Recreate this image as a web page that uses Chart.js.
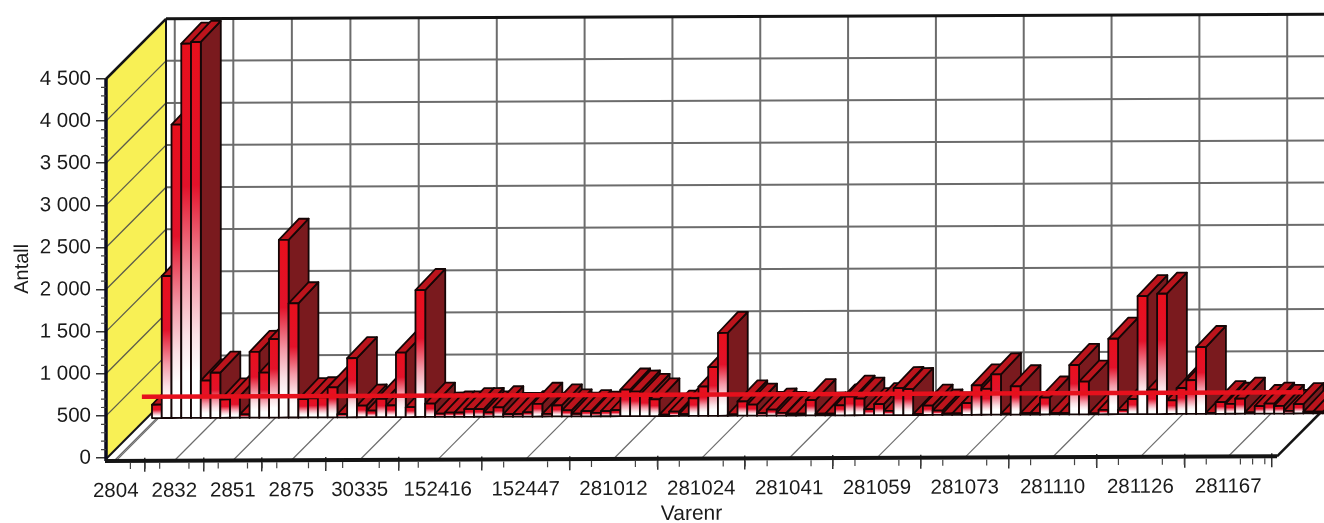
<!DOCTYPE html>
<html>
<head>
<meta charset="utf-8">
<style>
  html, body { margin: 0; background: #fff; }
  canvas { display: block; }
</style>
</head>
<body>
<canvas id="chart" width="1324" height="523"></canvas>
<script src="https://cdn.jsdelivr.net/npm/chart.js@4/dist/chart.umd.js"></script>
<script>
// one value per bar, left to right
const antall = [
  167, 1695, 3492, 4452, 4472, 452, 544, 226, 266, 48,
  790, 544, 940, 2119, 1365, 226, 236, 246, 365, 48,
  710, 147, 87, 226, 147, 774, 127, 1516, 167, 48,
  60, 60, 100, 100, 60, 120, 40, 40, 60, 160,
  40, 139, 80, 40, 70, 50, 70, 80, 325, 300,
  260, 206, 25, 60, 30, 218, 357, 587, 992, 25,
  178, 139, 40, 80, 40, 30, 30, 190, 30, 30,
  127, 230, 206, 80, 139, 60, 329, 317, 20, 119,
  60, 25, 25, 147, 357, 317, 488, 20, 345, 25,
  25, 210, 25, 25, 595, 397, 20, 60, 905, 60,
  187, 1409, 298, 1437, 171, 317, 409, 802, 20, 147,
  127, 187, 25, 99, 127, 99, 40, 119, 30, 30
];
const snitt = 357;
const varenr = ['2804', '2832', '2851', '2875', '30335', '152416', '152447', '281012',
  '281024', '281041', '281059', '281073', '281110', '281126', '281167'];
// number of bars standing left of each labelled tick
const barsBeforeTick = [1, 7, 13, 19, 26, 34, 43, 52, 61, 70, 79, 88, 97, 106, 115];

const FONT = '"Liberation Sans", Arial, sans-serif';
const DEPTH = 60;         // walls
const BAR_DX = 46, BAR_DY = 39, BAR_SIDE_X = 20, BAR_SIDE_Y = 21;
const LINE_SHIFT = 31;
const TILT = -0.004;      // the scan leans a little

function line(ctx, x1, y1, x2, y2, color, width) {
  ctx.strokeStyle = color;
  ctx.lineWidth = width;
  ctx.beginPath();
  ctx.moveTo(x1, y1);
  ctx.lineTo(x2, y2);
  ctx.stroke();
}

function poly(ctx, pts, fill) {
  ctx.beginPath();
  pts.forEach((p, i) => i ? ctx.lineTo(p[0], p[1]) : ctx.moveTo(p[0], p[1]));
  ctx.closePath();
  ctx.fillStyle = fill;
  ctx.fill();
  ctx.stroke();
}

// 3D column: side and top first, then the faded front
Chart.BarElement.prototype.draw = function (ctx) {
  const { x, y, base, width } = this.getProps(['x', 'y', 'base', 'width']);
  const l = x - width / 2, r = x + width / 2;
  ctx.save();
  ctx.strokeStyle = '#140606';
  ctx.lineWidth = 1.8;
  ctx.lineJoin = 'round';
  poly(ctx, [[r, y], [r, base], [r + BAR_SIDE_X, base - BAR_SIDE_Y], [r + BAR_SIDE_X, y - BAR_SIDE_Y]], '#7a1a1e');
  poly(ctx, [[l, y], [r, y], [r + BAR_SIDE_X, y - BAR_SIDE_Y], [l + BAR_SIDE_X, y - BAR_SIDE_Y]], '#bc141c');
  const g = ctx.createLinearGradient(0, y, 0, base);
  g.addColorStop(0, '#e80f1c');
  g.addColorStop(0.38, '#e2122a');
  g.addColorStop(0.62, '#f39aa8');
  g.addColorStop(0.78, '#fbe2e6');
  g.addColorStop(0.88, '#ffffff');
  g.addColorStop(1, '#ffffff');
  poly(ctx, [[l, y], [r, y], [r, base], [l, base]], g);
  ctx.restore();
};

const box3d = {
  id: 'box3d',
  beforeDraw(chart) {
    const ctx = chart.ctx;
    ctx.save();
    ctx.transform(1, TILT, 0, 1, 0, -TILT * chart.chartArea.left);
  },
  afterDraw(chart) {
    chart.ctx.restore();
  },
  beforeDatasetsDraw(chart) {
    const ctx = chart.ctx;
    const { x: xs, y: ys } = chart.scales;
    const { left, right, top, bottom } = chart.chartArea;
    const gray = '#6c6c6c';
    const floor = bottom + 3;
    ctx.save();

    // yellow side wall
    ctx.beginPath();
    ctx.moveTo(left, top);
    ctx.lineTo(left + DEPTH, top - DEPTH);
    ctx.lineTo(left + DEPTH, bottom - DEPTH);
    ctx.lineTo(left, bottom);
    ctx.closePath();
    ctx.fillStyle = '#f8f055';
    ctx.fill();

    ys.ticks.forEach(t => {
      const y = ys.getPixelForValue(t.value);
      if (t.value > 0 && t.value < ys.max) {
        line(ctx, left + DEPTH, y - DEPTH, right + DEPTH, y - DEPTH, gray, 2);
        line(ctx, left, y, left + DEPTH, y - DEPTH, '#5c5c4c', 1.3);
      }
    });
    xs.ticks.forEach(t => {
      const x = xs.getPixelForValue(t.value);
      line(ctx, x + DEPTH - 1, top - DEPTH, x + DEPTH - 1, bottom - DEPTH, gray, 2);
      line(ctx, x, floor, x + DEPTH, floor - DEPTH, gray, 1.2);
    });

    // outline of the box
    line(ctx, left + DEPTH, top - DEPTH, right + DEPTH, top - DEPTH, '#141414', 3);
    line(ctx, left + DEPTH, top - DEPTH, left + DEPTH, bottom - DEPTH, '#141414', 2);
    line(ctx, left, top, left + DEPTH, top - DEPTH, '#141414', 2.5);
    line(ctx, left, bottom + 1, left + DEPTH, bottom + 1 - DEPTH, '#141414', 2);
    line(ctx, left + 8, floor, left + DEPTH + 8, floor - DEPTH, '#555', 1);
    line(ctx, right, floor, right + DEPTH, floor - DEPTH, '#141414', 2.5);
    line(ctx, left, top, left, floor, '#0c0c20', 3.5);
    line(ctx, left - 1, floor, right, floor, '#141414', 4);

    // small ticks
    for (let v = 0; v < ys.max; v += 100) {
      if (v % 500) {
        const y = ys.getPixelForValue(v);
        line(ctx, left - 5, y, left, y, '#444', 1.2);
      }
    }
    const majors = xs.ticks.map(t => t.value).concat(xs.max);
    for (let i = 0; i < majors.length - 1; i++) {
      for (let q = 1; q < 4; q++) {
        const x = xs.getPixelForValue(majors[i] + (majors[i + 1] - majors[i]) * q / 4);
        line(ctx, x, floor + 2, x, floor + 8, '#444', 1.2);
      }
    }
    ctx.restore();
  },
  beforeDatasetDraw(chart, args) {
    const ctx = chart.ctx;
    ctx.save();
    if (args.meta.type === 'bar') ctx.translate(BAR_DX, -BAR_DY);
    else ctx.translate(LINE_SHIFT, -LINE_SHIFT);
  },
  afterDatasetDraw(chart) {
    chart.ctx.restore();
  }
};

function noPadding(scale) {
  scale.paddingLeft = scale.paddingRight = scale.paddingTop = scale.paddingBottom = 0;
}

new Chart(document.getElementById('chart'), {
  type: 'bar',
  plugins: [box3d],
  data: {
    datasets: [{
      type: 'line',
      data: [{ x: 0, y: snitt }, { x: antall.length - 1, y: snitt }],
      borderColor: '#e6101c',
      borderWidth: 4.5,
      pointRadius: 0,
      clip: false
    }, {
      type: 'bar',
      data: antall.map((v, i) => ({ x: i, y: v })),
      barPercentage: 1,
      categoryPercentage: 1,
      clip: false
    }]
  },
  options: {
    responsive: false,
    animation: false,
    layout: { padding: { top: 79, right: 47 } },
    plugins: { legend: { display: false }, tooltip: { enabled: false } },
    scales: {
      x: {
        type: 'linear',
        offset: false,
        min: -0.5,
        max: antall.length - 0.5,
        border: { display: false },
        grid: { drawOnChartArea: false, tickLength: 14, color: '#333', lineWidth: 1.5 },
        ticks: {
          autoSkip: false,
          maxRotation: 0,
          padding: 7,
          color: '#1a1a1a',
          font: { family: FONT, size: 20.5 },
          callback: (v, i) => varenr[i]
        },
        title: {
          display: true,
          text: 'Varenr',
          color: '#1a1a1a',
          font: { family: FONT, size: 21 },
          padding: { top: 0, bottom: -6 }
        },
        afterBuildTicks: s => { s.ticks = barsBeforeTick.map(n => ({ value: n - 0.5 })); },
        afterFit: s => { s.height = 65; noPadding(s); }
      },
      y: {
        min: 0,
        max: 4500,
        border: { display: false },
        grid: { drawOnChartArea: false, tickLength: 10, color: '#333', lineWidth: 1.5 },
        ticks: {
          stepSize: 500,
          padding: 5,
          color: '#1a1a1a',
          font: { family: FONT, size: 20.5 },
          callback: v => String(v).replace(/(\d)(\d{3})$/, '$1 $2')
        },
        title: {
          display: true,
          text: 'Antall',
          color: '#1a1a1a',
          font: { family: FONT, size: 20 },
          padding: { top: 10, bottom: 0 }
        },
        afterFit: s => { s.width = 106; noPadding(s); }
      }
    }
  }
});
</script>
</body>
</html>
